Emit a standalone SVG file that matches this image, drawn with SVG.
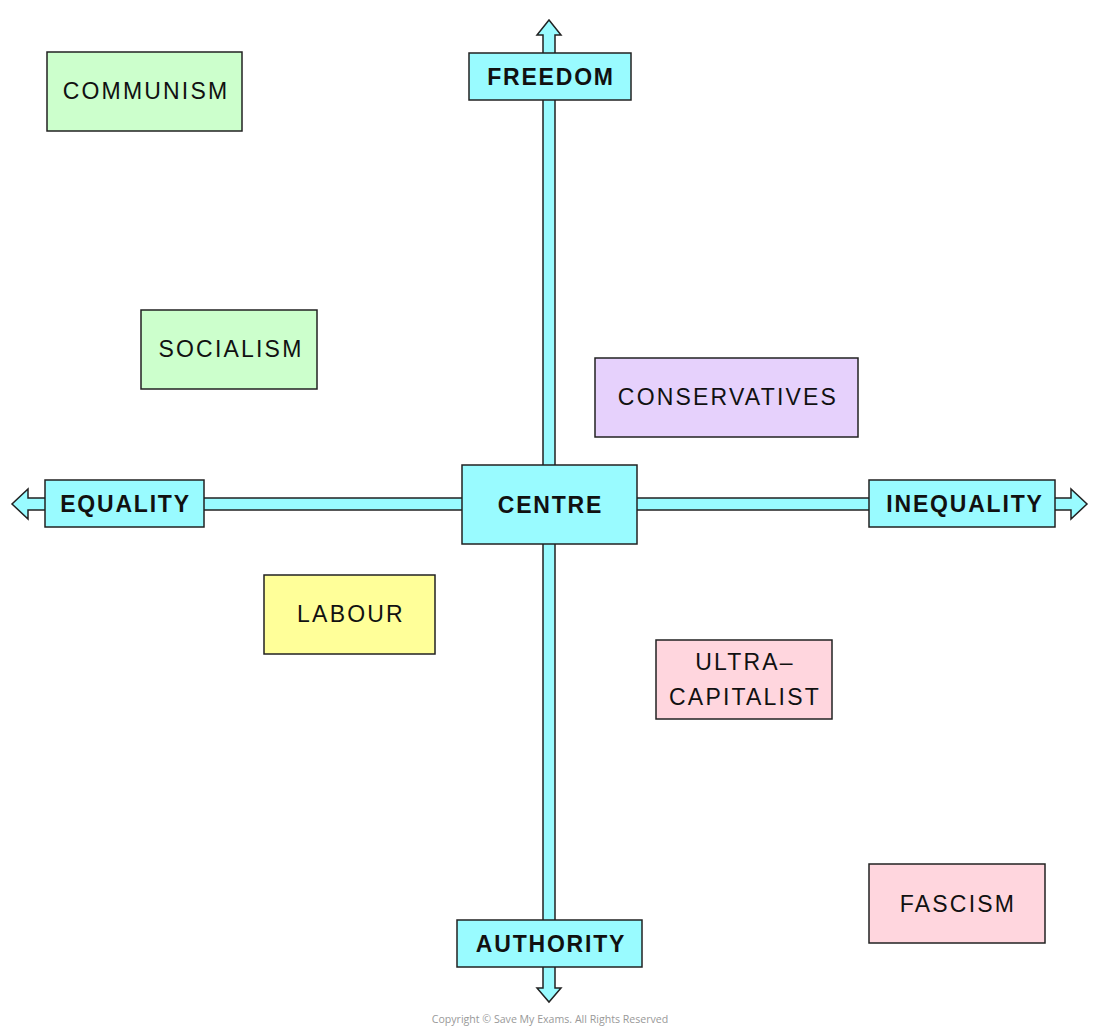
<svg xmlns="http://www.w3.org/2000/svg" width="1100" height="1029" viewBox="0 0 1100 1029">
<style>
.arrow{fill:#99fbff;stroke:#222;stroke-width:1.5;stroke-linejoin:miter}
.box{stroke:#222;stroke-width:1.5}
.cy{fill:#99fbff}
.gr{fill:#ccffcc}
.pu{fill:#e6d1fc}
.ye{fill:#ffff99}
.pk{fill:#ffd6de}
.lb{font-family:"Liberation Sans",Arial,sans-serif;font-size:23px;fill:#111;text-anchor:middle;letter-spacing:2.2px}
.bd{font-weight:bold;letter-spacing:1.8px}
.cp{font-family:"Open Sans","Liberation Sans",sans-serif;font-size:10.6px;fill:#999;text-anchor:middle}
</style>
<rect width="1100" height="1029" fill="#fff"/>
<g id="connectors">
<path class="arrow" d="M543,988 L543,35 L537,35 L549,20 L561,35 L555,35 L555,988 L561,988 L549,1002 L537,988 Z"/>
<path class="arrow" d="M28,498 L1071,498 L1071,489 L1087,504 L1071,519 L1071,510 L28,510 L28,519 L12,504 L28,489 Z"/>
</g>
<g id="freedom"><rect class="box cy" x="469" y="53" width="162" height="47"/><text class="lb bd" x="551" y="85">FREEDOM</text></g>
<g id="equality"><rect class="box cy" x="45" y="480" width="159" height="47"/><text class="lb bd" x="125.5" y="512">EQUALITY</text></g>
<g id="centre"><rect class="box cy" x="462" y="465" width="175" height="79"/><text class="lb bd" x="550.5" y="513">CENTRE</text></g>
<g id="inequality"><rect class="box cy" x="869" y="480" width="186" height="47"/><text class="lb bd" x="965" y="512">INEQUALITY</text></g>
<g id="authority"><rect class="box cy" x="457" y="920" width="185" height="47"/><text class="lb bd" x="551" y="952">AUTHORITY</text></g>
<g id="communism"><rect class="box gr" x="47" y="52" width="195" height="79"/><text class="lb" x="146" y="99">COMMUNISM</text></g>
<g id="socialism"><rect class="box gr" x="141" y="310" width="176" height="79"/><text class="lb" x="231" y="357">SOCIALISM</text></g>
<g id="conservatives"><rect class="box pu" x="595" y="358" width="263" height="79"/><text class="lb" x="728" y="405">CONSERVATIVES</text></g>
<g id="labour"><rect class="box ye" x="264" y="575" width="171" height="79"/><text class="lb" x="351" y="622">LABOUR</text></g>
<g id="ultra-capitalist"><rect class="box pk" x="656" y="640" width="176" height="79"/><text class="lb" x="745" y="670">ULTRA–</text><text class="lb" x="745" y="705">CAPITALIST</text></g>
<g id="fascism"><rect class="box pk" x="869" y="864" width="176" height="79"/><text class="lb" x="958" y="912">FASCISM</text></g>
<text class="cp" x="550" y="1023">Copyright © Save My Exams. All Rights Reserved</text>
</svg>
